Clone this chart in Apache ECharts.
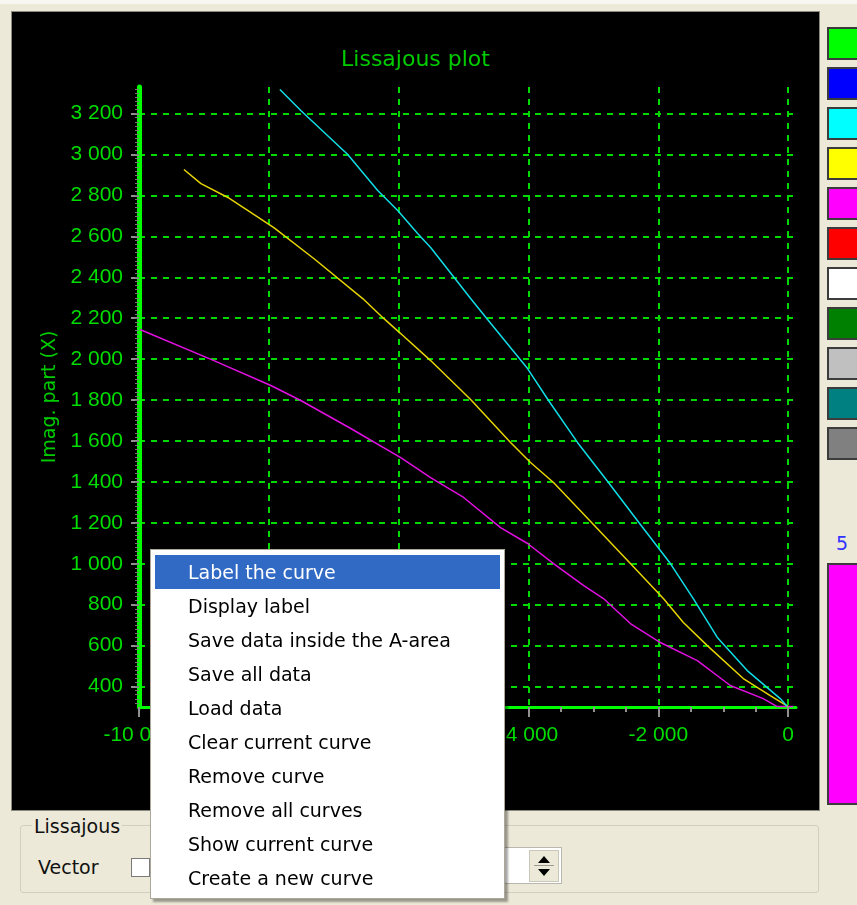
<!DOCTYPE html>
<html>
<head>
<meta charset="utf-8">
<script src="https://cdn.jsdelivr.net/npm/echarts@6/dist/echarts.min.js"></script>
<style>
  body { margin:0; width:857px; height:905px; background:#ECE9D8; position:relative; overflow:hidden; font-family:"DejaVu Sans", sans-serif; }
  .topStrip { position:absolute; left:0; top:0; width:857px; height:4px; background:#F7F6F1; }
  .frame { position:absolute; left:11px; top:11px; width:809px; height:800px; background:#8a8a80; }
  #chart { position:absolute; left:12px; top:12px; width:807px; height:798px; }
  .sw { position:absolute; left:827px; width:40px; height:29px; border:2px solid #3c3c3c; }
  .five { position:absolute; left:836px; top:532px; font-size:19px; color:#3232ff; }
  .group { position:absolute; left:20px; top:825px; width:797px; height:66px; border:1px solid #D0D0BF; border-radius:3px; }
  .groupLabel { position:absolute; left:32px; top:815px; padding:0 2px; background:#ECE9D8; font-size:19px; color:#111; }
  .vector { position:absolute; left:38px; top:856px; font-size:19px; color:#111; }
  .check { position:absolute; left:131px; top:858px; width:17px; height:17px; background:#fff; border:1px solid #7a7a7a; }
  .spin { position:absolute; left:470px; top:847px; width:90px; height:35px; background:#fff; border:1px solid #b8b8ae; }
  .spinBtn { position:absolute; left:529px; top:850px; width:28px; height:30px; background:#ECE9D8; border:1px solid #c9c7ba; }
  .up { position:absolute; left:8px; top:5px; width:0; height:0; border-left:6px solid transparent; border-right:6px solid transparent; border-bottom:7px solid #000; }
  .down { position:absolute; left:8px; top:18px; width:0; height:0; border-left:6px solid transparent; border-right:6px solid transparent; border-top:7px solid #000; }
  .sep { position:absolute; left:4px; top:14px; width:20px; height:1px; background:#9a9a90; }
  .menu { position:absolute; left:150px; top:549px; width:355px; height:350px; background:#fff; border:1px solid #aca899; box-shadow:3px 3px 2px rgba(0,0,0,0.35); padding:5px 0 0 0; box-sizing:border-box; }
  .item { height:34px; line-height:34px; margin:0 4px; padding-left:33px; font-size:19px; color:#000; white-space:nowrap; }
  .item.sel { background:#316AC5; color:#fff; }
</style>
</head>
<body>
<div class="topStrip"></div>
<div class="frame"></div>
<div id="chart"></div>

<div class="sw" style="top:27px;background:#00ff00"></div>
<div class="sw" style="top:67px;background:#0000ff"></div>
<div class="sw" style="top:107px;background:#00ffff"></div>
<div class="sw" style="top:147px;background:#ffff00"></div>
<div class="sw" style="top:187px;background:#ff00ff"></div>
<div class="sw" style="top:227px;background:#ff0000"></div>
<div class="sw" style="top:267px;background:#ffffff"></div>
<div class="sw" style="top:307px;background:#008000"></div>
<div class="sw" style="top:347px;background:#c0c0c0"></div>
<div class="sw" style="top:387px;background:#008080"></div>
<div class="sw" style="top:427px;background:#808080"></div>
<div class="five">5</div>
<div class="sw" style="top:563px;height:238px;background:#ff00ff"></div>

<div class="group"></div>
<div class="groupLabel">Lissajous</div>
<div class="vector">Vector</div>
<div class="check"></div>
<div class="spin"></div>
<div class="spinBtn"><div class="up"></div><div class="sep"></div><div class="down"></div></div>

<div class="menu">
  <div class="item sel">Label the curve</div>
  <div class="item">Display label</div>
  <div class="item">Save data inside the A-area</div>
  <div class="item">Save all data</div>
  <div class="item">Load data</div>
  <div class="item">Clear current curve</div>
  <div class="item">Remove curve</div>
  <div class="item">Remove all curves</div>
  <div class="item">Show current curve</div>
  <div class="item">Create a new curve</div>
</div>

<script>
  // tick labels
  var xTicks = [-10000, -8000, -6000, -4000, -2000, 0];
  var yTicks = [400, 600, 800, 1000, 1200, 1400, 1600, 1800, 2000, 2200, 2400, 2600, 2800, 3000, 3200];

  var cyanCurve = [[-7830, 3318], [-7615, 3249], [-7508, 3215], [-6785, 3000], [-6323, 2824], [-6015, 2726],
    [-5708, 2614], [-5508, 2546], [-4892, 2296], [-4631, 2194], [-4015, 1954], [-3692, 1798], [-3246, 1593],
    [-2769, 1397], [-2277, 1192], [-1815, 1001], [-1462, 830], [-1092, 640], [-631, 478], [-123, 341], [-15, 302]];
  var yellowCurve = [[-9308, 2927], [-9046, 2858], [-8631, 2790], [-7923, 2643], [-7308, 2492], [-6554, 2296],
    [-6231, 2199], [-5969, 2125], [-5508, 1993], [-4892, 1803], [-4277, 1593], [-3969, 1495], [-3615, 1397],
    [-3000, 1192], [-2431, 1001], [-1923, 830], [-1615, 713], [-1246, 600], [-692, 439], [-277, 356], [0, 302]];
  var magentaCurve = [[-9985, 2145], [-8846, 1993], [-7969, 1871], [-7508, 1798], [-6738, 1661], [-5969, 1519],
    [-5508, 1421], [-5000, 1324], [-4431, 1177], [-4015, 1099], [-3615, 1001], [-3154, 894], [-2846, 830],
    [-2431, 708], [-1969, 615], [-1400, 527], [-892, 405], [-385, 341], [-169, 302], [77, 302]];

  var xMinor = [];
  for (var i = -10000; i <= 0; i += 500) xMinor.push(i);
  var yMinor = [];
  for (var j = 320; j <= 3320; j += 20) yMinor.push(j);

  function fmt(v) {
    return String(v).replace(/\B(?=(\d{3})+(?!\d))/g, ' ');
  }

  var green = '#00dd00';
  var grid = { type: [6, 6], color: '#00d800', width: 2 };
  var font = 'DejaVu Sans';
  var numFont = 'Liberation Sans';

  var myChart = echarts.init(document.getElementById('chart'));
  var option = {
    backgroundColor: '#000',
    animation: false,
    title: {
      text: 'Lissajous plot', left: 'center', top: 37, padding: 0,
      textStyle: { color: '#00cc00', fontSize: 22, fontWeight: 'normal', fontFamily: font }
    },
    grid: { left: 127, right: 23, top: 75, bottom: 103, containLabel: false, outerBoundsMode: 'none' },
    xAxis: [{
      type: 'value', min: -10000, max: 120, position: 'bottom',
      axisLine: { onZero: false, lineStyle: { color: '#00ff00', width: 3 } },
      axisTick: { customValues: xTicks, length: 10, lineStyle: { color: '#909090', width: 2 } },
      axisLabel: { customValues: xTicks, formatter: fmt, color: green, fontSize: 21, fontFamily: numFont, margin: 18 },
      splitLine: { show: true, lineStyle: grid }
    }, {
      type: 'value', min: -10000, max: 120, position: 'bottom',
      axisLine: { show: false, onZero: false },
      axisTick: { customValues: xMinor, length: 5, lineStyle: { color: '#909090', width: 2 } },
      axisLabel: { show: false },
      splitLine: { show: false }
    }],
    yAxis: [{
      type: 'value', min: 300, max: 3330, position: 'left',
      name: 'Imag. part (X)', nameLocation: 'middle', nameGap: 77,
      nameTextStyle: { color: '#00cc00', fontSize: 19, fontFamily: font },
      axisLine: { onZero: false, lineStyle: { color: '#00ff00', width: 5 } },
      axisTick: { customValues: yTicks, length: 8, lineStyle: { color: '#909090', width: 2 } },
      axisLabel: { customValues: yTicks, formatter: fmt, color: green, fontSize: 21, fontFamily: numFont, margin: 16 },
      splitLine: { show: true, lineStyle: grid }
    }, {
      type: 'value', min: 300, max: 3330, position: 'left',
      axisLine: { show: false, onZero: false },
      axisTick: { customValues: yMinor, length: 4, lineStyle: { color: '#7a7a7a', width: 1 } },
      axisLabel: { show: false },
      splitLine: { show: false }
    }],
    series: [{
      type: 'line', data: magentaCurve, showSymbol: false, symbol: 'none',
      lineStyle: { color: '#e010e0', width: 1.5 }
    }, {
      type: 'line', data: yellowCurve, showSymbol: false, symbol: 'none',
      lineStyle: { color: '#e6d400', width: 1.5 }
    }, {
      type: 'line', data: cyanCurve, showSymbol: false, symbol: 'none',
      lineStyle: { color: '#10dde6', width: 1.5 }
    }]
  };
  myChart.setOption(option);
</script>
</body>
</html>
